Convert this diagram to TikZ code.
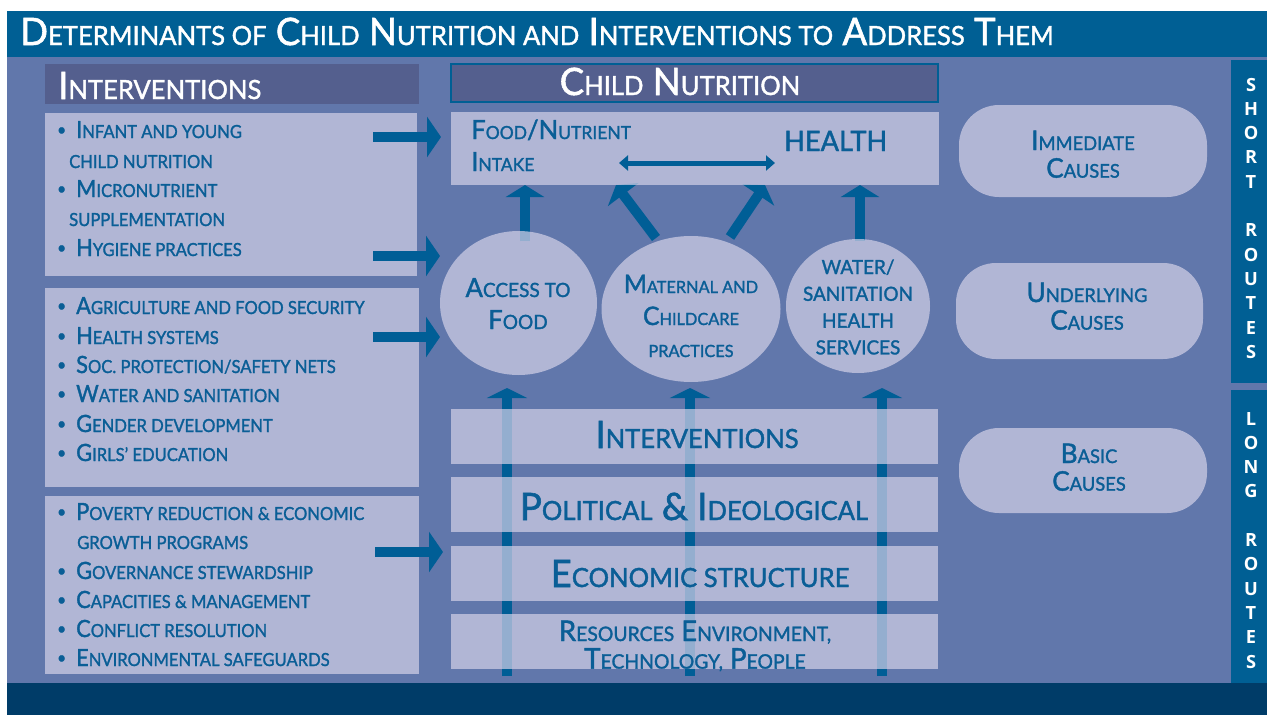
\documentclass[tikz,border=0pt]{standalone}
\usepackage{fontspec}
\setmainfont{Lato}[FakeStretch=0.97, FakeBold=1.5]
\newfontfamily\itemfont{Lato}[FakeStretch=0.92, FakeBold=1.5]
\newfontfamily\routefont{Open Sans}
\usetikzlibrary{arrows.meta,shapes.geometric,calc}

\definecolor{titlec}{RGB}{0,95,148}
\definecolor{bgc}{RGB}{97,119,171}
\definecolor{boxc}{RGB}{211,209,232}
\definecolor{hdrc}{RGB}{84,95,142}
\definecolor{navyc}{RGB}{0,60,104}
\definecolor{textc}{RGB}{10,94,150}
\definecolor{arrowc}{RGB}{0,94,150}

\pgfdeclarelayer{back}
\pgfdeclarelayer{arrows}
\pgfsetlayers{back,arrows,main}

% small capitals built from upper-case letters at a reduced size
\makeatletter
\newcommand\smr{0.72}
\newcommand\sm[1]{{\fontsize{\fpeval{\smr*\f@size}}{\f@baselineskip}\selectfont\MakeUppercase{#1}}}
\makeatother
\newcommand\fs[2]{\fontsize{#1}{#2}\selectfont}
\newcommand\ml[2][c]{\begin{tabular}[t]{@{}#1@{}}#2\end{tabular}}
\newcommand\bul{\llap{\raisebox{2.5pt}{\fs{17}{17}\textbullet}\hspace{10pt}}}

\tikzset{
  pane/.style={fill=boxc, fill opacity=0.7, inner sep=0pt, outer sep=0pt, rectangle},
  pill/.style={pane, rounded corners=40pt},
  oval/.style={pane, ellipse},
  header/.style={fill=hdrc, inner sep=0pt, outer sep=0pt},
  txt/.style={text=textc, inner sep=0pt, anchor=base},
  whitetxt/.style={text=white, inner sep=0pt, anchor=base west, font={\fs{37.7}{40}\def\smr{0.70}}},
  item/.style={txt, anchor=base west, font={\itemfont\fs{23.7}{29.4}\def\smr{0.76}}},
  layertxt/.style={txt, font={\fs{37.7}{40}\def\smr{0.70}}},
  causetxt/.style={txt, font={\fs{27}{27}\def\smr{0.70}}},
  routetxt/.style={text=white, inner sep=0pt, anchor=base, font={\routefont\bfseries\fs{18.2}{24.3}}},
  bigarrow/.style={draw=arrowc, line width=10pt, -{Triangle[width=38pt,length=12pt]}},
  basearrow/.style={bigarrow, -{Triangle[width=40pt,length=10pt]}},
  sidearrow/.style={draw=arrowc, line width=10pt, -{Triangle[width=40pt,length=14pt]}},
  twoway/.style={draw=arrowc, line width=5pt, {Triangle[width=15pt,length=9pt]}-{Triangle[width=15pt,length=9pt]}},
}

\begin{document}
\begin{tikzpicture}[x=1pt,y=-1pt]
\useasboundingbox (0,0) rectangle (1267,715);

% frame: title bar, panel, footer and the two route strips
\begin{pgfonlayer}{back}
  \fill[white] (0,0) rectangle (1267,715);
  \fill[titlec] (7,11) rectangle (1267,57);
  \fill[bgc] (7,57) rectangle (1267,683);
  \fill[navyc] (7,683) rectangle (1267,715);
  \fill[titlec] (1231,60) rectangle (1267,383);
  \fill[titlec] (1231,390) rectangle (1267,683);
\end{pgfonlayer}

\node[whitetxt] (title) at (20,45)
  {D\sm{eterminants of} C\sm{hild} N\sm{utrition and} I\sm{nterventions to} A\sm{ddress} T\sm{hem}};

% headers
\node[header, minimum width=374pt, minimum height=40pt] (ihead) at (232,84) {};
\node[whitetxt] (iheadt) at (58,99) {I\sm{nterventions}};
\node[header, draw=titlec, line width=2pt, minimum width=487pt, minimum height=38pt] (cnhead) at (694.5,83) {};
\node[whitetxt, anchor=base] (cnheadt) at (680,95) {C\sm{hild} N\sm{utrition}};

% intervention lists
\node[pane, minimum width=372pt, minimum height=163pt] (b1) at (231,194.5) {};
\node[pane, minimum width=374pt, minimum height=199pt] (b2) at (232,387.5) {};
\node[pane, minimum width=374pt, minimum height=178pt] (b3) at (232,585) {};

\node[item] (i11) at (76,138) {\bul I\sm{nfant and young}};
\node[item] (i12) at (69,168) {\sm{child nutrition}};
\node[item] (i13) at (76,197) {\bul M\sm{icronutrient}};
\node[item] (i14) at (69,226) {\sm{supplementation}};
\node[item] (i15) at (76,256) {\bul H\sm{ygiene practices}};

\node[item] (i21) at (76,314) {\bul A\sm{griculture and food security}};
\node[item] (i22) at (76,344) {\bul H\sm{ealth systems}};
\node[item] (i23) at (76,373) {\bul S\sm{oc. protection/safety nets}};
\node[item] (i24) at (76,402) {\bul W\sm{ater and sanitation}};
\node[item] (i25) at (76,432) {\bul G\sm{ender development}};
\node[item] (i26) at (76,461) {\bul G\sm{irls’ education}};

\node[item] (i31) at (76,520) {\bul P\sm{overty reduction \& economic}};
\node[item] (i32) at (77,549) {\sm{growth programs}};
\node[item] (i33) at (76,579) {\bul G\sm{overnance stewardship}};
\node[item] (i34) at (76,608) {\bul C\sm{apacities \& management}};
\node[item] (i35) at (76,637) {\bul C\sm{onflict resolution}};
\node[item] (i36) at (76,666) {\bul E\sm{nvironmental safeguards}};

% immediate level
\node[pane, minimum width=488pt, minimum height=73pt] (fh) at (695,148.5) {};
\node[txt, anchor=base west, font={\fs{26.5}{32}\def\smr{0.68}}] (fni) at (471,139)
  {\ml[l]{F\sm{ood}/N\sm{utrient}\\I\sm{ntake}}};
\node[txt, anchor=base west, font=\fs{28}{30}] (hl) at (784,151) {HEALTH};

% underlying level
\node[oval, minimum width=157pt, minimum height=144pt] (acc) at (518.5,303) {};
\node[oval, minimum width=179pt, minimum height=146pt] (mat) at (691,309) {};
\node[oval, minimum width=144pt, minimum height=134pt] (wat) at (858,306) {};
\node[txt, font={\fs{26.5}{32}\def\smr{0.74}}] (acct) at (518,297) {\ml{A\sm{ccess to}\\F\sm{ood}}};
\node[txt, font={\fs{25.5}{32}\def\smr{0.66}}] (matt) at (691,293) {\ml{M\sm{aternal and}\\C\sm{hildcare}\\\sm{practices}}};
\node[txt, font=\fs{19.5}{26.8}] (watt) at (858,274) {\ml{WATER/\\SANITATION\\HEALTH\\SERVICES}};

% basic level
\node[pane, minimum width=487pt, minimum height=55pt] (lay1) at (694.5,436.5) {};
\node[pane, minimum width=487pt, minimum height=55pt] (lay2) at (694.5,504.5) {};
\node[pane, minimum width=487pt, minimum height=55pt] (lay3) at (694.5,573.5) {};
\node[pane, minimum width=487pt, minimum height=55pt] (lay4) at (694.5,641.5) {};
\node[layertxt] (lay1t) at (697,448) {I\sm{nterventions}};
\node[layertxt] (lay2t) at (694,520) {P\sm{olitical} \& I\sm{deological}};
\node[layertxt] (lay3t) at (700,587) {E\sm{conomic structure}};
\node[txt, font={\fs{28.5}{24}\def\smr{0.70}}] (lay4t) at (695,641)
  {\ml{R\sm{esources} E\sm{nvironment,}\\T\sm{echnology,} P\sm{eople}}};

% cause labels
\node[pill, minimum width=248pt, minimum height=92pt] (imm) at (1083,151) {};
\node[pill, minimum width=247pt, minimum height=96pt] (und) at (1079.5,311) {};
\node[pill, minimum width=248pt, minimum height=85pt] (bas) at (1083,470.5) {};
\node[causetxt] (immt) at (1083,150) {\ml{I\sm{mmediate}\\C\sm{auses}}};
\node[causetxt] (undt) at (1087,302) {\ml{U\sm{nderlying}\\C\sm{auses}}};
\node[causetxt] (bast) at (1089,463) {\ml{B\sm{asic}\\C\sm{auses}}};

% route strips
\node[routetxt] (short) at (1251,91) {\ml{S\\H\\O\\R\\T\\ \\R\\O\\U\\T\\E\\S}};
\node[routetxt] (long) at (1251,425) {\ml{L\\O\\N\\G\\ \\R\\O\\U\\T\\E\\S}};

% causal arrows, beneath the translucent panes
\begin{pgfonlayer}{arrows}
  \coordinate (a1) at ($(acc.north)+(6.5,10)$);
  \draw[bigarrow] (a1) -- (a1 |- fh.south);
  \coordinate (m1) at ($(mat.north)+(-35,2)$);
  \coordinate (m1e) at ($(fh.south west)+(165,0)$);
  \draw[bigarrow] (m1) -- (m1e);
  \coordinate (m2) at ($(mat.north)+(39,1)$);
  \coordinate (m2e) at ($(fh.south west)+(314,0)$);
  \draw[bigarrow] (m2) -- (m2e);
  \coordinate (w1) at ($(wat.north)+(2,2)$);
  \draw[bigarrow] (w1) -- (w1 |- fh.south);

  \coordinate (r1) at (507,676);
  \coordinate (r1e) at (507,388);
  \coordinate (r2) at (690,676);
  \coordinate (r2e) at (690,388);
  \coordinate (r3) at (882,676);
  \coordinate (r3e) at (882,388);
  \draw[basearrow] (r1) -- (r1e);
  \draw[basearrow] (r2) -- (r2e);
  \draw[basearrow] (r3) -- (r3e);
\end{pgfonlayer}

% intake and health influence each other
\coordinate (d1) at (619,163);
\coordinate (d2) at (775,163);
\draw[twoway] (d1) -- (d2);

% interventions acting on each level
\coordinate (s1) at (373,137);  \coordinate (s1e) at (441,137);
\coordinate (s2) at (373,256);  \coordinate (s2e) at (440,256);
\coordinate (s3) at (373,337);  \coordinate (s3e) at (440,337);
\coordinate (s4) at (375,552);  \coordinate (s4e) at (443,552);
\draw[sidearrow] (s1) -- (s1e);
\draw[sidearrow] (s2) -- (s2e);
\draw[sidearrow] (s3) -- (s3e);
\draw[sidearrow] (s4) -- (s4e);
\end{tikzpicture}
\end{document}
